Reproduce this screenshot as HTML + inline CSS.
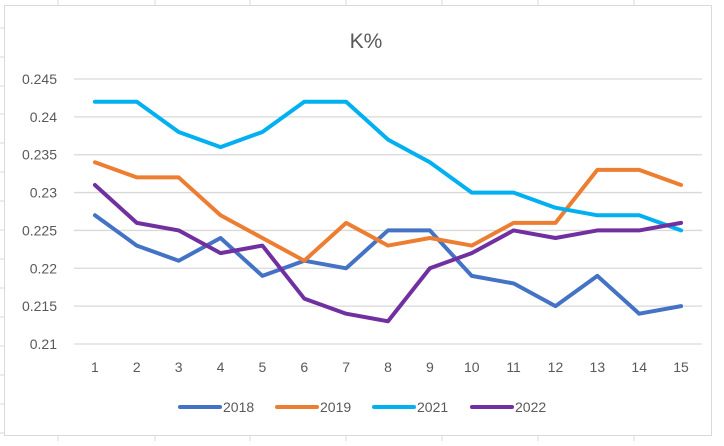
<!DOCTYPE html>
<html><head><meta charset="utf-8"><style>
body{margin:0;width:724px;height:441px;overflow:hidden;background:#fff;font-family:"Liberation Sans",sans-serif;}
svg text{font-family:"Liberation Sans",sans-serif;fill:#595959;}
</style></head><body>
<svg id="c" width="724" height="441"></svg>
<script>
const categories=[1,2,3,4,5,6,7,8,9,10,11,12,13,14,15];
const s2018=[.227,.223,.221,.224,.219,.221,.220,.225,.225,.219,.218,.215,.219,.214,.215];
const s2019=[.234,.232,.232,.227,.224,.221,.226,.223,.224,.223,.226,.226,.233,.233,.231];
const s2021=[.242,.242,.238,.236,.238,.242,.242,.237,.234,.230,.230,.228,.227,.227,.225];
const s2022=[.231,.226,.225,.222,.223,.216,.214,.213,.220,.222,.225,.224,.225,.225,.226];
const seriesNames=["2018","2019","2021","2022"];
const yTicks=[0.21,0.215,0.22,0.225,0.23,0.235,0.24,0.245];
const yTickLabels=["0.21","0.215","0.22","0.225","0.23","0.235","0.24","0.245"];
const colors=["#4472C4","#ED7D31","#00B0F0","#7030A0"];
const svg=document.getElementById('c');const NS='http://www.w3.org/2000/svg';
function el(t,a,p){const e=document.createElementNS(NS,t);for(const k in a)e.setAttribute(k,a[k]);(p||svg).appendChild(e);return e;}
const L=74,R=702,yMin=0.21,yMax=0.245,yB=344,yT=79;
const x=i=>L+(R-L)/categories.length*(i+0.5);
const y=v=>yB-(v-yMin)/(yMax-yMin)*(yB-yT);
// background sheet grid
[58,155,250,346,442,538,634].forEach(gx=>{const e=el('line',{x1:gx,x2:gx,y1:0,y2:441,stroke:'#d9d9d9'});

});
[28,57,86,114,143,172,201,230,259,288,317,346,375,404,433].forEach(gy=>{const e=el('line',{x1:0,x2:4,y1:gy,y2:gy,stroke:'#d9d9d9'});

});
const bg=el('rect',{x:4.5,y:5.5,width:707,height:430,fill:'#fff',stroke:'#d9d9d9'});


const t=el('text',{x:366,y:48,'font-size':21,'text-anchor':'middle'});t.textContent='K%';


yTicks.forEach((v,i)=>{const g=el('line',{x1:L,x2:R,y1:y(v),y2:y(v),stroke:'#d9d9d9','stroke-width':1.3});


const tx=el('text',{x:57,y:y(v)+5,'font-size':14,'text-anchor':'end'});tx.textContent=yTickLabels[i];

});
categories.forEach((c,i)=>{const tx=el('text',{x:x(i),y:372,'font-size':14,'text-anchor':'middle'});tx.textContent=c;

});
[s2018,s2019,s2021,s2022].forEach((s,k)=>{const p=el('polyline',{points:s.map((v,i)=>x(i)+','+y(v)).join(' '),fill:'none',stroke:colors[k],'stroke-width':4,'stroke-linejoin':'round','stroke-linecap':'round'});

});
const lx=[180,277,374,472];
seriesNames.forEach((n,k)=>{const g=el('g',{});


el('line',{x1:lx[k],x2:lx[k]+40,y1:407,y2:407,stroke:colors[k],'stroke-width':4,'stroke-linecap':'round'},g);
const tx=el('text',{x:lx[k]+43,y:412,'font-size':14},g);tx.textContent=n;});
</script>
</body></html>
